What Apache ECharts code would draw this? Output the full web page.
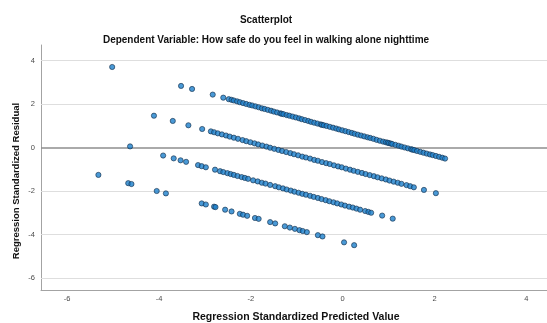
<!DOCTYPE html>
<html>
<head>
<meta charset="utf-8">
<script src="https://cdn.jsdelivr.net/npm/echarts@6/dist/echarts.min.js"></script>
<style>
html,body{margin:0;padding:0;background:#fff;}
#chart{width:547px;height:323px;}
</style>
</head>
<body>
<div id="chart"></div>
<script>
// Axis tick labels
const xTicks = [-6, -4, -2, 0, 2, 4];
const yTicks = [-6, -4, -2, 0, 2, 4];

// [standardized predicted value, standardized residual], one list per response level
const levelTop = [
  [-5.02, 3.70], [-3.52, 2.83], [-3.28, 2.69], [-2.83, 2.43], [-2.60, 2.29],
  [-2.48, 2.22], [-2.42, 2.19], [-2.37, 2.16], [-2.30, 2.12], [-2.24, 2.08], [-2.17, 2.04],
  [-2.10, 2.00], [-2.03, 1.96], [-1.97, 1.93], [-1.90, 1.89], [-1.83, 1.85], [-1.76, 1.80],
  [-1.70, 1.77], [-1.63, 1.73], [-1.56, 1.69], [-1.50, 1.65], [-1.43, 1.61], [-1.36, 1.57],
  [-1.33, 1.55], [-1.29, 1.53], [-1.22, 1.49], [-1.16, 1.46], [-1.09, 1.42], [-1.02, 1.38],
  [-0.95, 1.34], [-0.89, 1.30], [-0.82, 1.26], [-0.75, 1.22], [-0.69, 1.18], [-0.62, 1.14],
  [-0.55, 1.10], [-0.48, 1.06], [-0.45, 1.04], [-0.41, 1.02], [-0.35, 0.99], [-0.28, 0.95],
  [-0.21, 0.91], [-0.14, 0.87], [-0.08, 0.83], [-0.01, 0.79], [0.06, 0.75], [0.13, 0.71],
  [0.20, 0.67], [0.26, 0.63], [0.33, 0.59], [0.40, 0.55], [0.47, 0.51], [0.54, 0.47],
  [0.60, 0.44], [0.67, 0.40], [0.74, 0.35], [0.81, 0.31], [0.88, 0.27], [0.94, 0.24],
  [0.98, 0.22], [1.01, 0.20], [1.05, 0.18], [1.08, 0.16], [1.15, 0.12], [1.22, 0.08],
  [1.28, 0.04], [1.35, 0.00], [1.42, -0.04], [1.49, -0.08], [1.52, -0.10], [1.56, -0.12],
  [1.62, -0.16], [1.69, -0.20], [1.76, -0.24], [1.83, -0.28], [1.90, -0.32], [1.96, -0.35],
  [2.03, -0.39], [2.10, -0.43], [2.17, -0.47], [2.23, -0.51]
];

const levelSecond = [
  [-4.11, 1.46], [-3.70, 1.22], [-3.36, 1.02], [-3.06, 0.85],
  [-2.87, 0.74], [-2.80, 0.70], [-2.72, 0.65], [-2.63, 0.60], [-2.54, 0.55], [-2.46, 0.50],
  [-2.37, 0.45], [-2.28, 0.40], [-2.18, 0.34], [-2.10, 0.29], [-2.01, 0.24], [-1.92, 0.19],
  [-1.84, 0.14], [-1.75, 0.09], [-1.66, 0.04], [-1.58, -0.01], [-1.49, -0.06], [-1.40, -0.11],
  [-1.32, -0.16], [-1.23, -0.21], [-1.14, -0.26], [-1.06, -0.31], [-0.97, -0.36], [-0.88, -0.42],
  [-0.80, -0.46], [-0.71, -0.51], [-0.62, -0.57], [-0.54, -0.61], [-0.45, -0.67], [-0.36, -0.72],
  [-0.28, -0.76], [-0.19, -0.82], [-0.10, -0.87], [-0.02, -0.91], [0.07, -0.97], [0.16, -1.02],
  [0.24, -1.07], [0.33, -1.12], [0.42, -1.17], [0.50, -1.22], [0.59, -1.27], [0.68, -1.32],
  [0.76, -1.37], [0.85, -1.42], [0.94, -1.47], [1.02, -1.52], [1.11, -1.57], [1.20, -1.62],
  [1.28, -1.67], [1.39, -1.73], [1.47, -1.78], [1.55, -1.83],
  [1.77, -1.95], [2.03, -2.10]
];

const levelThird = [
  [-4.63, 0.05], [-3.91, -0.37], [-3.68, -0.50], [-3.53, -0.59], [-3.41, -0.66],
  [-3.15, -0.81], [-3.07, -0.86], [-2.98, -0.91],
  [-2.78, -1.02], [-2.67, -1.09], [-2.60, -1.13], [-2.51, -1.18], [-2.44, -1.22], [-2.37, -1.26],
  [-2.29, -1.31], [-2.20, -1.36], [-2.13, -1.40], [-2.06, -1.44], [-1.95, -1.51], [-1.85, -1.56],
  [-1.76, -1.62], [-1.68, -1.66], [-1.58, -1.72], [-1.47, -1.78], [-1.39, -1.83], [-1.30, -1.88],
  [-1.22, -1.93], [-1.13, -1.98], [-1.05, -2.03], [-0.96, -2.08], [-0.88, -2.13], [-0.80, -2.17],
  [-0.71, -2.22], [-0.63, -2.27], [-0.54, -2.32], [-0.46, -2.37], [-0.37, -2.42], [-0.29, -2.47],
  [-0.20, -2.52], [-0.12, -2.57], [-0.03, -2.62], [0.05, -2.67], [0.14, -2.72], [0.22, -2.76],
  [0.30, -2.81], [0.38, -2.86], [0.49, -2.92], [0.56, -2.96], [0.62, -3.00],
  [0.86, -3.13], [1.09, -3.27]
];

const levelBottom = [
  [-5.32, -1.26], [-4.67, -1.64], [-4.60, -1.68], [-4.05, -2.00], [-3.85, -2.11],
  [-3.07, -2.57], [-2.98, -2.62], [-2.80, -2.72], [-2.77, -2.74], [-2.56, -2.86], [-2.42, -2.94],
  [-2.24, -3.05], [-2.17, -3.09], [-2.08, -3.14], [-1.91, -3.24], [-1.83, -3.28], [-1.58, -3.43],
  [-1.47, -3.49], [-1.26, -3.62], [-1.15, -3.68], [-1.04, -3.74], [-0.94, -3.80], [-0.87, -3.84],
  [-0.78, -3.89], [-0.54, -4.03], [-0.44, -4.09], [0.03, -4.36], [0.25, -4.49]
];

const titleText = 'Scatterplot';
const subtitleText = 'Dependent Variable: How safe do you feel in walking alone nighttime';
const xTitle = 'Regression Standardized Predicted Value';
const yTitle = 'Regression Standardized Residual';

const chart = echarts.init(document.getElementById('chart'), null, { renderer: 'canvas' });

const pointStyle = {
  color: '#1c80cc',
  borderColor: '#16304a',
  borderWidth: 0.8
};

function pointSeries(data) {
  return {
    type: 'scatter',
    data: data,
    symbol: 'circle',
    symbolSize: 5.2,
    itemStyle: pointStyle,
    z: 5,
    silent: true,
    animation: false
  };
}

const labelFont = 'Liberation Sans, Arial, sans-serif';

const option = {
  animation: false,
  backgroundColor: '#ffffff',
  textStyle: { fontFamily: labelFont },
  grid: { left: 41, right: 0, top: 45, bottom: 33, containLabel: false },
  xAxis: {
    type: 'value',
    min: -6.57,
    max: 4.45,
    axisLine: { show: true, onZero: false, lineStyle: { color: '#a3a3a3', width: 1 } },
    axisTick: { show: false },
    splitLine: { show: false },
    axisLabel: {
      customValues: xTicks,
      color: '#4a4a4a',
      fontSize: 7.5,
      margin: 5,
      fontFamily: labelFont
    }
  },
  yAxis: {
    type: 'value',
    min: -6.55,
    max: 4.71,
    axisLine: { show: true, onZero: false, lineStyle: { color: '#a3a3a3', width: 1 } },
    axisTick: { show: false },
    splitLine: { show: false },
    axisLabel: {
      customValues: yTicks,
      color: '#4a4a4a',
      fontSize: 7.5,
      margin: 6,
      fontFamily: labelFont
    }
  },
  graphic: [
    {
      type: 'text', x: 266, y: 20,
      style: {
        text: titleText, fill: '#111', font: 'bold 10px "Liberation Sans", Arial, sans-serif',
        textAlign: 'center', textVerticalAlign: 'middle'
      }
    },
    {
      type: 'text', x: 266, y: 40,
      style: {
        text: subtitleText, fill: '#111', font: 'bold 10px "Liberation Sans", Arial, sans-serif',
        textAlign: 'center', textVerticalAlign: 'middle'
      }
    },
    {
      type: 'text', x: 296, y: 317,
      style: {
        text: xTitle, fill: '#111', font: 'bold 10.5px "Liberation Sans", Arial, sans-serif',
        textAlign: 'center', textVerticalAlign: 'middle'
      }
    },
    {
      type: 'text', x: 16, y: 181, rotation: Math.PI / 2,
      style: {
        text: yTitle, fill: '#111', font: 'bold 9.5px "Liberation Sans", Arial, sans-serif',
        textAlign: 'center', textVerticalAlign: 'middle'
      }
    }
  ],
  series: [
    {
      // horizontal reference lines at the y tick values
      type: 'line',
      data: [],
      silent: true,
      z: 1,
      markLine: {
        silent: true,
        symbol: 'none',
        label: { show: false },
        animation: false,
        data: yTicks.map(v => ({
          yAxis: v,
          lineStyle: v === 0
            ? { color: '#8e8e8e', width: 1.5, type: 'solid' }
            : { color: '#dedede', width: 1.2, type: 'solid' }
        }))
      }
    },
    pointSeries(levelTop),
    pointSeries(levelSecond),
    pointSeries(levelThird),
    pointSeries(levelBottom)
  ]
};

chart.setOption(option);
</script>
</body>
</html>
